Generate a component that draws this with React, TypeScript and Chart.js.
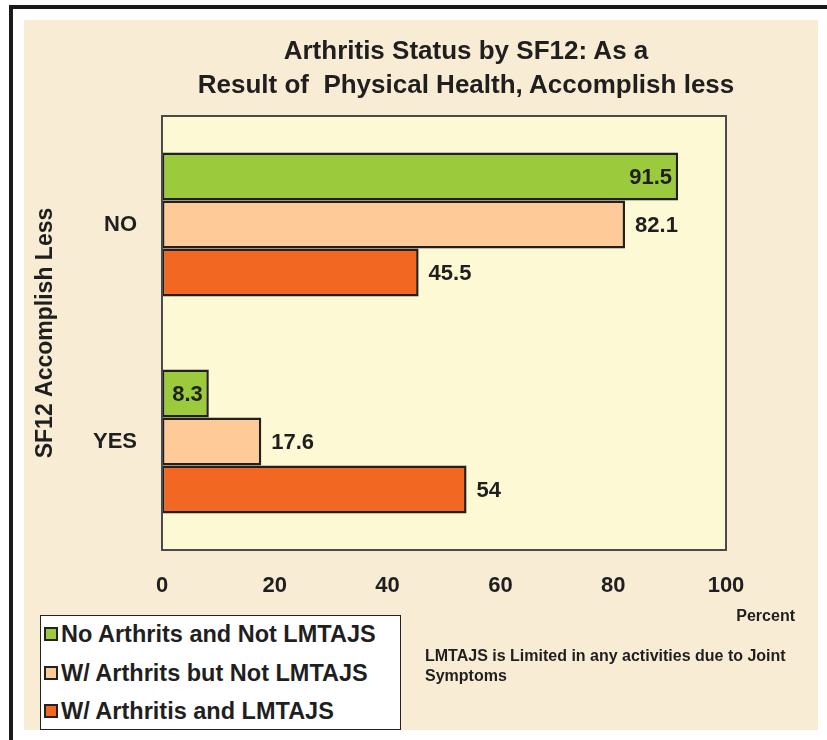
import React, { useEffect, useRef } from "react";
import { Chart, registerables } from "chart.js";

Chart.register(...registerables);

const categories = ["NO", "YES"];
const seriesNames = [
  "No Arthrits and Not LMTAJS",
  "W/ Arthrits but Not LMTAJS",
  "W/ Arthritis and LMTAJS",
];
const noArthritisNotLimited = [91.5, 8.3];
const arthritisNotLimited = [82.1, 17.6];
const arthritisLimited = [45.5, 54];
const xTicks = [0, 20, 40, 60, 80, 100];
const seriesColors = ["#9BCB3C", "#FECB98", "#F26722"];
const labelInside = [true, false, false];
const titleLines = ["Arthritis Status by SF12: As a", "Result of  Physical Health, Accomplish less"];
const yTitle = "SF12 Accomplish Less";
const xUnit = "Percent";
const noteLines = ["LMTAJS is Limited in any activities due to Joint", "Symptoms"];

const FONT = '"Liberation Sans", Arial, Helvetica, sans-serif';
const INK = "#1f1f1f";

const plotBackground = {
  id: "plotBackground",
  beforeDraw(chart: any) {
    const { ctx, chartArea } = chart;
    ctx.save();
    ctx.fillStyle = "#FDF9D4";
    ctx.fillRect(chartArea.left, chartArea.top, chartArea.right - chartArea.left, chartArea.bottom - chartArea.top);
    ctx.restore();
  },
  afterDraw(chart: any) {
    const { ctx, chartArea } = chart;
    ctx.save();
    ctx.strokeStyle = "#4a4a4a";
    ctx.lineWidth = 2;
    ctx.strokeRect(chartArea.left, chartArea.top, chartArea.right - chartArea.left, chartArea.bottom - chartArea.top);
    ctx.restore();
  },
};

const valueLabels = {
  id: "valueLabels",
  afterDatasetsDraw(chart: any) {
    const { ctx } = chart;
    ctx.save();
    ctx.font = `bold 22px ${FONT}`;
    ctx.fillStyle = INK;
    ctx.textBaseline = "middle";
    chart.data.datasets.forEach((ds: any, di: number) => {
      const meta = chart.getDatasetMeta(di);
      meta.data.forEach((bar: any, i: number) => {
        const v = ds.data[i];
        const text = String(v);
        if (labelInside[di]) {
          ctx.textAlign = "right";
          ctx.fillText(text, bar.x - 6, bar.y + 1);
        } else {
          ctx.textAlign = "left";
          ctx.fillText(text, bar.x + 10, bar.y + 1);
        }
      });
    });
    ctx.restore();
  },
};

export default function App() {
  const canvasRef = useRef<HTMLCanvasElement | null>(null);

  useEffect(() => {
    if (!canvasRef.current) return;
    const seriesData = [noArthritisNotLimited, arthritisNotLimited, arthritisLimited];
    const chart = new Chart(canvasRef.current, {
      type: "bar",
      data: {
        labels: categories,
        datasets: seriesData.map((d, i) => ({
          label: seriesNames[i],
          data: d,
          backgroundColor: seriesColors[i],
          borderColor: "#231F20",
          borderWidth: 2.5,
          borderSkipped: false,
          barPercentage: 1,
          categoryPercentage: 0.664,
        })),
      },
      options: {
        responsive: false,
        animation: false,
        indexAxis: "y",
        layout: { padding: { left: 24, right: 101, top: 116, bottom: 130 } },
        plugins: {
          legend: { display: false },
          tooltip: { enabled: false },
          title: { display: false },
        },
        scales: {
          x: {
            min: 0,
            max: 100,
            afterBuildTicks: (s: any) => {
              s.ticks = xTicks.map((v) => ({ value: v }));
            },
            grid: { display: false, drawTicks: false },
            border: { display: false },
            ticks: { font: { family: FONT, size: 22, weight: "bold" }, color: INK, padding: 23, maxRotation: 0 },
            afterFit: (s: any) => {
              s.height = 60;
            },
          },
          y: {
            grid: { display: false, drawTicks: false },
            border: { display: false },
            ticks: { font: { family: FONT, size: 22, weight: "bold" }, color: INK, padding: 25 },
            title: {
              display: true,
              text: yTitle,
              font: { family: FONT, size: 23, weight: "bold" },
              color: INK,
              padding: { top: 8, bottom: 0 },
            },
            afterFit: (s: any) => {
              s.width = 138;
            },
          },
        },
      },
      plugins: [plotBackground, valueLabels],
    } as any);
    return () => chart.destroy();
  }, []);

  const legendRowTops = [620, 659, 697];

  return (
    <div
      style={{
        position: "absolute",
        left: 0,
        top: 0,
        width: 827,
        height: 740,
        background: "#ffffff",
        overflow: "hidden",
        fontFamily: FONT,
        color: INK,
      }}
    >
      <div style={{ position: "absolute", left: 9, top: 5, width: 818, height: 4, background: "#1a1a1a" }} />
      <div style={{ position: "absolute", left: 9, top: 5, width: 4, height: 735, background: "#1a1a1a" }} />
      <div style={{ position: "absolute", left: 24, top: 20, width: 794, height: 710, background: "#F9ECD4" }} />
      <canvas
        ref={canvasRef}
        width={827}
        height={740}
        style={{ position: "absolute", left: 0, top: 0, width: 827, height: 740 }}
      />
      <div
        style={{
          position: "absolute",
          left: 166,
          top: 33,
          width: 600,
          textAlign: "center",
          fontWeight: "bold",
          fontSize: 26,
          lineHeight: "34px",
          whiteSpace: "pre",
        }}
      >
        {titleLines.map((t, i) => (
          <div key={i}>{t}</div>
        ))}
      </div>
      <div
        style={{
          position: "absolute",
          left: 695,
          top: 606,
          width: 100,
          textAlign: "right",
          fontWeight: "bold",
          fontSize: 16,
          lineHeight: "20px",
        }}
      >
        {xUnit}
      </div>
      <div
        style={{
          position: "absolute",
          left: 425,
          top: 646,
          width: 390,
          fontWeight: "bold",
          fontSize: 16,
          lineHeight: "20px",
        }}
      >
        {noteLines.map((t, i) => (
          <div key={i}>{t}</div>
        ))}
      </div>
      <div
        style={{
          position: "absolute",
          left: 40,
          top: 615,
          width: 361,
          height: 115,
          boxSizing: "border-box",
          background: "#ffffff",
          border: "1.5px solid #222",
        }}
      />
      {seriesNames.map((name, i) => (
        <div
          key={name}
          style={{
            position: "absolute",
            left: 44,
            top: legendRowTops[i],
            height: 28,
            display: "flex",
            alignItems: "center",
            fontWeight: "bold",
            fontSize: 23.5,
            whiteSpace: "nowrap",
          }}
        >
          <span
            style={{
              display: "inline-block",
              width: 14,
              height: 14,
              boxSizing: "border-box",
              border: "2px solid #222",
              background: seriesColors[i],
              marginRight: 3,
            }}
          />
          <span>{name}</span>
        </div>
      ))}
    </div>
  );
}
